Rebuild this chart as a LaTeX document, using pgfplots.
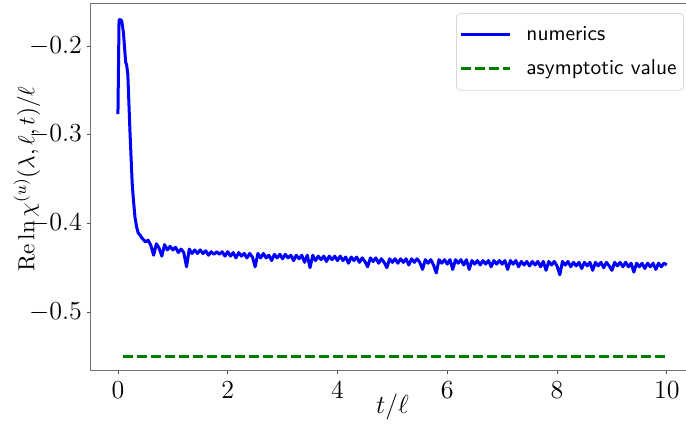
\RequirePackage{fix-cm}
\documentclass[border=0pt]{standalone}
\usepackage{pgfplots}
\pgfplotsset{compat=1.18}
\definecolor{mplgreen}{RGB}{0,128,0}
\begin{document}
\begin{tikzpicture}
\begin{axis}[
  name=ax,
  scale only axis,
  width=297.75pt, height=183.5pt,
  xmin=-0.5, xmax=10.35, ymin=-0.5665, ymax=-0.1527,
  axis line style={draw=none},
  tick pos=left, tick align=outside,
  major tick length=1.75pt,
  every tick/.style={black!70, line width=0.4pt},
  xtick={0,2,4,6,8,10},
  ytick={-0.5,-0.4,-0.3,-0.2},
  yticklabels={$-0.5$,$-0.4$,$-0.3$,$-0.2$},
  tick label style={font=\fontsize{13}{15}\selectfont},
  yticklabel style={xshift=1pt},
  xlabel={$t/\ell$},
  ylabel={$\mathrm{Re}\ln\chi^{(u)}(\lambda,\ell,t)/\ell$},
  xlabel style={font=\fontsize{13}{15}\selectfont, at={(axis description cs:0.507,0)}, anchor=center, yshift=-18pt},
  ylabel style={font=\fontsize{11.6}{14}\selectfont, at={(axis description cs:-0.1066,0.523)}, anchor=center},
  clip=false,
  legend cell align=left,
  legend image code/.code={\draw[#1] (0pt,0pt) -- (24.5pt,0pt);},
  legend style={at={(1,1)}, anchor=north east, xshift=-1pt, yshift=-4.5pt,
    draw=black!15, rounded corners=2pt, font=\sffamily\fontsize{10.7}{12}\selectfont,
    row sep=4pt, column sep=5.5pt, inner xsep=1.5pt, inner ysep=4.5pt},
]
\addplot[blue, line width=1.5pt, line join=round] coordinates {
(0.00,-0.277) (0.02,-0.171) (0.04,-0.170) (0.07,-0.172) (0.10,-0.185)
(0.14,-0.218) (0.16,-0.222) (0.18,-0.232) (0.22,-0.298) (0.26,-0.355)
(0.28,-0.372) (0.31,-0.393) (0.34,-0.404) (0.37,-0.411) (0.40,-0.413)
(0.43,-0.416) (0.46,-0.418)
(0.50,-0.421) (0.55,-0.419) (0.60,-0.425) (0.65,-0.436) (0.70,-0.423)
(0.75,-0.428) (0.80,-0.437) (0.85,-0.424) (0.90,-0.430) (0.95,-0.426)
(1.00,-0.430) (1.05,-0.427) (1.10,-0.433) (1.15,-0.429) (1.20,-0.433)
(1.25,-0.449) (1.30,-0.429) (1.35,-0.434) (1.40,-0.430) (1.45,-0.434)
(1.50,-0.430) (1.55,-0.434) (1.60,-0.431) (1.65,-0.436) (1.70,-0.432)
(1.75,-0.435) (1.80,-0.432) (1.85,-0.435) (1.90,-0.432) (1.95,-0.437)
(2.00,-0.432) (2.05,-0.437) (2.10,-0.433) (2.15,-0.439) (2.20,-0.433)
(2.25,-0.437) (2.30,-0.434) (2.35,-0.439) (2.40,-0.434) (2.45,-0.438)
(2.50,-0.449) (2.55,-0.434) (2.60,-0.439) (2.65,-0.434) (2.70,-0.439)
(2.75,-0.436) (2.80,-0.442) (2.85,-0.435) (2.90,-0.439) (2.95,-0.435)
(3.00,-0.440) (3.05,-0.435) (3.10,-0.439) (3.15,-0.436) (3.20,-0.442)
(3.25,-0.436) (3.30,-0.440) (3.35,-0.436) (3.40,-0.444) (3.45,-0.436)
(3.50,-0.450) (3.55,-0.436) (3.60,-0.442) (3.65,-0.437) (3.70,-0.441)
(3.75,-0.437) (3.80,-0.443) (3.85,-0.437) (3.90,-0.441) (3.95,-0.437)
(4.00,-0.442) (4.05,-0.437) (4.10,-0.442) (4.15,-0.438) (4.20,-0.445)
(4.25,-0.438) (4.30,-0.442) (4.35,-0.438) (4.40,-0.444) (4.45,-0.439)
(4.50,-0.443) (4.55,-0.449) (4.60,-0.439) (4.65,-0.443) (4.70,-0.439)
(4.75,-0.445) (4.80,-0.440) (4.85,-0.444) (4.90,-0.450) (4.95,-0.440)
(5.00,-0.444) (5.05,-0.440) (5.10,-0.445) (5.15,-0.440) (5.20,-0.444)
(5.25,-0.440) (5.30,-0.447) (5.35,-0.440) (5.40,-0.444) (5.45,-0.440)
(5.50,-0.444) (5.55,-0.452) (5.60,-0.441) (5.65,-0.445) (5.70,-0.441)
(5.75,-0.447) (5.80,-0.456) (5.85,-0.441) (5.90,-0.445) (5.95,-0.441)
(6.00,-0.446) (6.05,-0.441) (6.10,-0.452) (6.15,-0.441) (6.20,-0.445)
(6.25,-0.441) (6.30,-0.447) (6.35,-0.441) (6.40,-0.452) (6.45,-0.442)
(6.50,-0.446) (6.55,-0.442) (6.60,-0.447) (6.65,-0.442) (6.70,-0.446)
(6.75,-0.442) (6.80,-0.449) (6.85,-0.442) (6.90,-0.446) (6.95,-0.442)
(7.00,-0.446) (7.05,-0.442) (7.10,-0.452) (7.15,-0.442) (7.20,-0.446)
(7.25,-0.442) (7.30,-0.449) (7.35,-0.443) (7.40,-0.447) (7.45,-0.443)
(7.50,-0.448) (7.55,-0.443) (7.60,-0.447) (7.65,-0.443) (7.70,-0.449)
(7.75,-0.443) (7.80,-0.453) (7.85,-0.443) (7.90,-0.447) (7.95,-0.443)
(8.00,-0.448) (8.05,-0.458) (8.10,-0.443) (8.15,-0.447) (8.20,-0.443)
(8.25,-0.449) (8.30,-0.444) (8.35,-0.448) (8.40,-0.444) (8.45,-0.451)
(8.50,-0.444) (8.55,-0.448) (8.60,-0.444) (8.65,-0.453) (8.70,-0.444)
(8.75,-0.448) (8.80,-0.444) (8.85,-0.450) (8.90,-0.444) (8.95,-0.448)
(9.00,-0.453) (9.05,-0.444) (9.10,-0.448) (9.15,-0.444) (9.20,-0.449)
(9.25,-0.444) (9.30,-0.449) (9.35,-0.445) (9.40,-0.455) (9.45,-0.445)
(9.50,-0.449) (9.55,-0.445) (9.60,-0.451) (9.65,-0.445) (9.70,-0.449)
(9.75,-0.445) (9.80,-0.452) (9.85,-0.445) (9.90,-0.449) (9.95,-0.445)
(10.00,-0.447)
};
\addlegendentry{numerics}
\addplot[mplgreen, line width=1.25pt, dash pattern=on 5pt off 2pt] coordinates {
(0.1,-0.55) (10.0,-0.55)
};
\addlegendentry{asymptotic value}
\end{axis}
\draw[black!55, line width=0.5pt] (ax.north east) -- (ax.north west) -- (ax.south west) -- (ax.south east);
\pgfresetboundingbox
\path ([shift={(-45.25pt,-27.5pt)}]ax.south west) rectangle ([shift={(0pt,2pt)}]ax.north east);
\end{tikzpicture}
\end{document}
